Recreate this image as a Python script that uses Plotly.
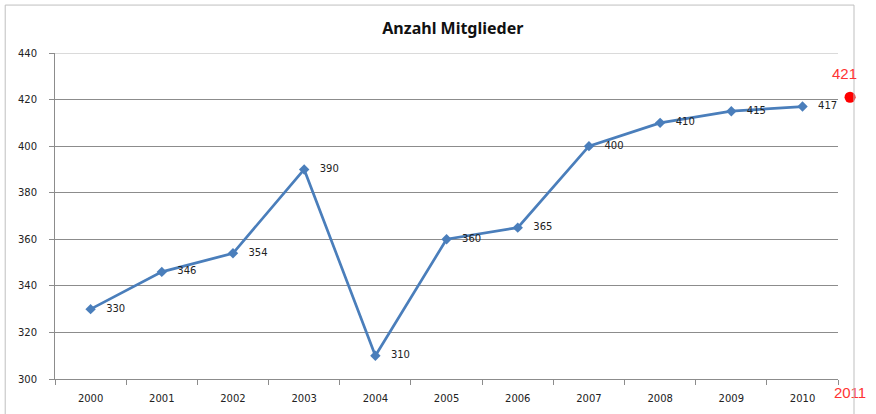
import plotly.graph_objects as go

years = [2000, 2001, 2002, 2003, 2004, 2005, 2006, 2007, 2008, 2009, 2010]
members = [330, 346, 354, 390, 310, 360, 365, 400, 410, 415, 417]
forecast_year = [2011]
forecast_value = [421]
y_ticks = [300, 320, 340, 360, 380, 400, 420, 440]
title_text = "Anzahl Mitglieder"

blue = "#4a7ebb"
grid = "#8c8c8c"
lab_font = dict(family="DejaVu Sans", size=10, color="#222222")
red_font = dict(family="Liberation Sans", size=15, color="#ff3333")

fig = go.Figure()
fig.add_trace(go.Scatter(
    x=years, y=members, mode="lines+markers+text",
    line=dict(color=blue, width=2.7),
    marker=dict(symbol="diamond", size=8, color=blue),
    text=["   " + str(v) for v in members], textposition="middle right",
    textfont=lab_font, cliponaxis=False, showlegend=False,
))
fig.add_trace(go.Scatter(
    x=forecast_year, y=forecast_value, mode="markers", xaxis="x2", yaxis="y2",
    marker=dict(symbol="circle", size=11, color="#ff0000"),
    cliponaxis=False, showlegend=False,
))
fig.add_annotation(x=forecast_year[0], y=forecast_value[0], xref="x2", yref="y2",
                   text=str(forecast_value[0]), showarrow=False, yshift=24, xshift=-6,
                   font=red_font)

fig.update_layout(
    width=876, height=414,
    margin=dict(l=55, r=10, t=53, b=35),
    paper_bgcolor="white", plot_bgcolor="rgba(0,0,0,0)",
    title=dict(text="<b>" + title_text + "</b>", x=0.493, xanchor="center", xref="paper",
               y=0.932, yanchor="middle",
               font=dict(family="Noto Sans", size=16, color="#111111")),
    xaxis=dict(
        domain=[0, 0.97041],
        range=[1999.5, 2010.5], tickmode="array", tickvals=years,
        ticktext=[str(y) for y in years], ticks="", showgrid=False,
        showline=True, linecolor=grid, linewidth=1,
        tickfont=lab_font, zeroline=False, ticklabelstandoff=10,
        minor=dict(tickmode="array", tickvals=[y - 0.5 for y in years] + [2010.5],
                   ticks="outside", ticklen=5, tickcolor=grid, showgrid=False),
    ),
    yaxis=dict(
        range=[300, 440], tickmode="array", tickvals=y_ticks,
        showgrid=True, gridcolor=grid, gridwidth=1,
        showline=True, linecolor=grid, linewidth=1,
        ticks="outside", ticklen=5, tickcolor=grid,
        tickfont=lab_font, zeroline=False, ticklabelstandoff=10,
    ),
    xaxis2=dict(
        domain=[0, 1], anchor="y2", range=[1999.496, 2011.173], tickmode="array",
        tickvals=forecast_year, ticktext=[str(y) for y in forecast_year],
        tickfont=red_font, showgrid=False, showline=False, ticks="",
        zeroline=False, ticklabelstandoff=3,
    ),
    yaxis2=dict(
        anchor="x2", overlaying="y", range=[300, 440], visible=False,
        showgrid=False, zeroline=False,
    ),
)

# light top gridline
fig.add_shape(type="line", xref="x", yref="y", x0=1999.5, x1=2010.5, y0=440, y1=440,
              line=dict(color="#dadada", width=2))
# chart border
border = "#bfbfbf"
fig.add_shape(type="line", xref="paper", yref="paper", x0=-0.0617, x1=-0.0617, y0=-0.11, y1=1.147,
              line=dict(color=border, width=1))
fig.add_shape(type="line", xref="paper", yref="paper", x0=-0.0617, x1=0.9901, y0=1.147, y1=1.147,
              line=dict(color=border, width=1))
fig.add_shape(type="line", xref="paper", yref="paper", x0=0.9901, x1=0.9901, y0=-0.11, y1=1.147,
              line=dict(color=border, width=1))

fig.write_html("out.html", config={"displayModeBar": False},
               post_script="document.body.style.margin='0';document.body.style.overflow='hidden';")
